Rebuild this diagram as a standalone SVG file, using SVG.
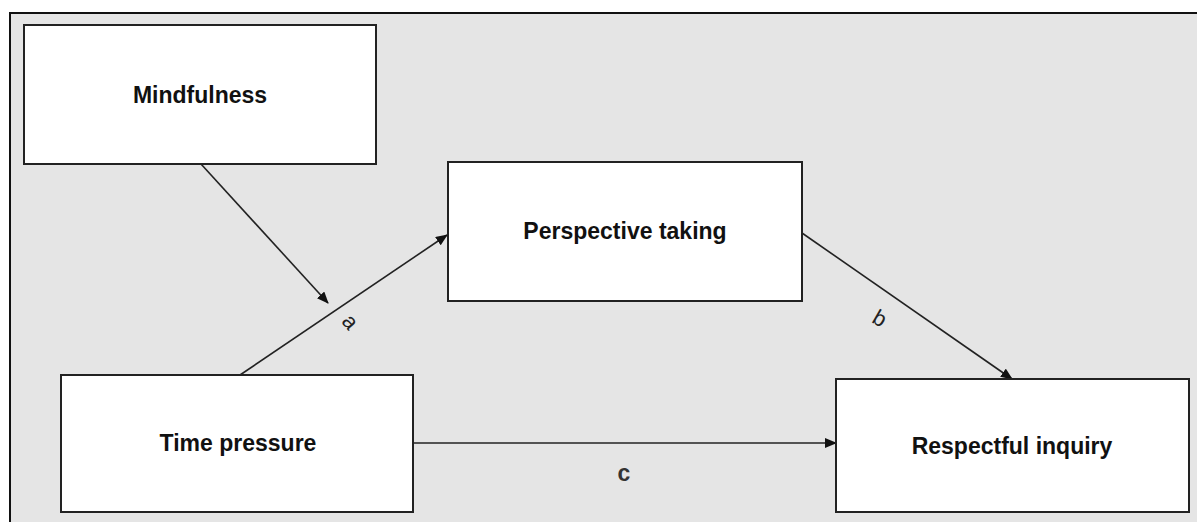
<svg xmlns="http://www.w3.org/2000/svg" width="1197" height="522" viewBox="0 0 1197 522">
  <style>
    .box { fill: #ffffff; stroke: #222222; stroke-width: 2; }
    .lbl { font-family: "Liberation Sans", Arial, sans-serif; font-weight: bold; font-size: 23px; fill: #111111; text-anchor: middle; }
    .edge { stroke: #222222; stroke-width: 1.6; fill: none; marker-end: url(#ah); }
    .elbl { font-family: "Liberation Sans", Arial, sans-serif; font-size: 22px; fill: #222222; text-anchor: middle; }
  </style>
  <defs>
    <marker id="ah" markerWidth="12" markerHeight="10" refX="11" refY="5" orient="auto" markerUnits="userSpaceOnUse">
      <path d="M0,0 L12,5 L0,10 Z" fill="#111111"/>
    </marker>
  </defs>
  <rect x="0" y="0" width="1197" height="522" fill="#ffffff"/>
  <rect x="10" y="13" width="1200" height="520" fill="#e5e5e5" stroke="#111111" stroke-width="2"/>

  <g id="connectors">
    <line class="edge" x1="201" y1="164" x2="328" y2="303"/>
    <line class="edge" x1="240" y1="375" x2="447" y2="235"/>
    <line class="edge" x1="802" y1="233" x2="1012" y2="379"/>
    <line class="edge" x1="413" y1="443" x2="836" y2="443"/>
    <text class="elbl" x="350" y="329" transform="rotate(50 350 322)">a</text>
    <text class="elbl" x="880" y="326" transform="rotate(30 880 318)">b</text>
    <text class="elbl" x="624" y="481" style="font-size:23px;font-weight:bold;fill:#333">c</text>
  </g>

  <g id="mindfulness">
    <rect class="box" x="24" y="25" width="352" height="139"/>
    <text class="lbl" x="200" y="103">Mindfulness</text>
  </g>
  <g id="perspective-taking">
    <rect class="box" x="448" y="162" width="354" height="139"/>
    <text class="lbl" x="625" y="239">Perspective taking</text>
  </g>
  <g id="time-pressure">
    <rect class="box" x="61" y="375" width="352" height="137"/>
    <text class="lbl" x="238" y="451">Time pressure</text>
  </g>
  <g id="respectful-inquiry">
    <rect class="box" x="836" y="379" width="353" height="133"/>
    <text class="lbl" x="1012" y="454">Respectful inquiry</text>
  </g>
</svg>
